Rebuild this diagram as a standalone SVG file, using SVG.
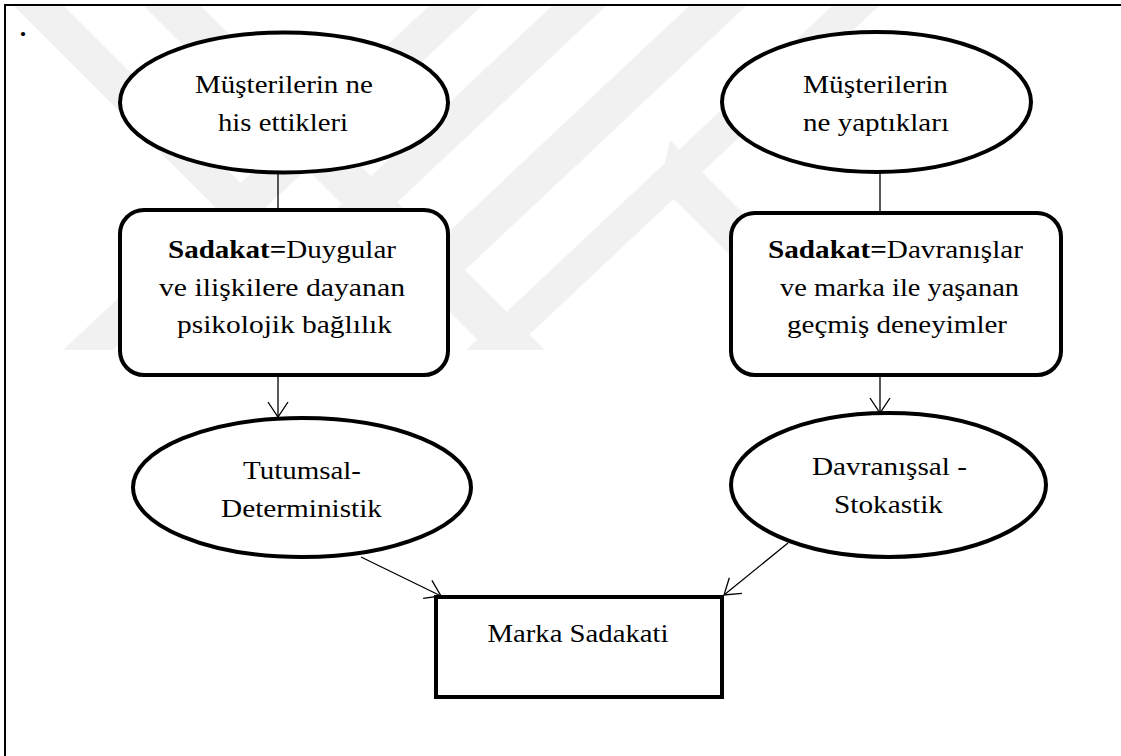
<svg xmlns="http://www.w3.org/2000/svg" width="1121" height="756" viewBox="0 0 1121 756">
  <defs>
    <style>
      .wm { fill: #f1f1f1; }
      .frame { fill: none; stroke: #000; stroke-width: 2; }
      .node { fill: #fff; stroke: #000; stroke-width: 4; }
      .link { fill: none; stroke: #000; stroke-width: 1.3; }
      .arrow { marker-end: url(#open); }
      text { font-family: "Liberation Serif", "Times New Roman", serif; font-size: 26px; fill: #000; text-anchor: middle; }
      .b { font-weight: bold; }
    </style>
    <marker id="open" viewBox="0 0 18 22" refX="16" refY="11" markerWidth="18" markerHeight="22" markerUnits="userSpaceOnUse" orient="auto">
      <path d="M1,1 L16,11 L1,21" fill="none" stroke="#000" stroke-width="1.3"/>
    </marker>
    <clipPath id="wmclip">
      <rect x="6" y="6" width="1115" height="344"/>
    </clipPath>
  </defs>

  <rect width="1121" height="756" fill="#fff"/>

  <!-- background emblem stripes -->
  <g id="emblem" clip-path="url(#wmclip)">
    <polygon class="wm" points="13,5 63,5 408,350 358,350"/>
    <polygon class="wm" points="143,5 200,5 545,350 488,350"/>
    <polygon class="wm" points="430,5 483,5 113,350 63,350"/>
    <polygon class="wm" points="553,5 607,5 240,350 186,350"/>
    <polygon class="wm" points="690,5 747,5 380,350 323,350"/>
    <polygon class="wm" points="833,5 880,5 513,350 466,350"/>
    <polygon class="wm" points="670,140 880,350 825,350 660,185"/>
  </g>

  <!-- page frame -->
  <path class="frame" d="M5,756 V5 H1121"/>
  <text x="23" y="36" font-weight="bold">.</text>

  <!-- connectors -->
  <g id="connectors">
    <line class="link" x1="278" y1="170" x2="278" y2="212"/>
    <line class="link arrow" x1="278" y1="375" x2="278" y2="417"/>
    <line class="link" x1="880" y1="170" x2="880" y2="214"/>
    <line class="link arrow" x1="880" y1="375" x2="880" y2="413"/>
    <line class="link arrow" x1="361" y1="557" x2="441" y2="596"/>
    <line class="link arrow" x1="788" y1="543" x2="724" y2="595"/>
  </g>

  <!-- nodes -->
  <g id="feel">
    <ellipse class="node" cx="284" cy="102.5" rx="164" ry="70"/>
    <text x="284" y="93" textLength="178" lengthAdjust="spacingAndGlyphs">Müşterilerin ne</text>
    <text x="283" y="131" textLength="130" lengthAdjust="spacingAndGlyphs">his ettikleri</text>
  </g>

  <g id="do">
    <ellipse class="node" cx="876.5" cy="102" rx="154.5" ry="70"/>
    <text x="875.5" y="93" textLength="145" lengthAdjust="spacingAndGlyphs">Müşterilerin</text>
    <text x="876" y="131" textLength="146" lengthAdjust="spacingAndGlyphs">ne yaptıkları</text>
  </g>

  <g id="attitudinal-def">
    <rect class="node" x="120" y="210" width="328" height="165" rx="24" ry="24"/>
    <text x="282" y="258" textLength="228" lengthAdjust="spacingAndGlyphs"><tspan class="b">Sadakat=</tspan>Duygular</text>
    <text x="282" y="296" textLength="246" lengthAdjust="spacingAndGlyphs">ve ilişkilere dayanan</text>
    <text x="284.5" y="333" textLength="215" lengthAdjust="spacingAndGlyphs">psikolojik bağlılık</text>
  </g>

  <g id="behavioural-def">
    <rect class="node" x="731" y="213" width="330" height="162" rx="24" ry="24"/>
    <text x="895.5" y="258" textLength="255" lengthAdjust="spacingAndGlyphs"><tspan class="b">Sadakat=</tspan>Davranışlar</text>
    <text x="899.5" y="296" textLength="239" lengthAdjust="spacingAndGlyphs">ve marka ile yaşanan</text>
    <text x="897" y="333" textLength="220" lengthAdjust="spacingAndGlyphs">geçmiş deneyimler</text>
  </g>

  <g id="attitudinal">
    <ellipse class="node" cx="302" cy="487.5" rx="169" ry="69.5"/>
    <text x="302" y="479" textLength="118" lengthAdjust="spacingAndGlyphs">Tutumsal-</text>
    <text x="301.5" y="517" textLength="161" lengthAdjust="spacingAndGlyphs">Deterministik</text>
  </g>

  <g id="behavioural">
    <ellipse class="node" cx="888.5" cy="485" rx="157.5" ry="72"/>
    <text x="889.5" y="475" textLength="155" lengthAdjust="spacingAndGlyphs">Davranışsal -</text>
    <text x="888.5" y="513" textLength="109" lengthAdjust="spacingAndGlyphs">Stokastik</text>
  </g>

  <g id="brand-loyalty">
    <rect class="node" x="436" y="597" width="286" height="100"/>
    <text x="578" y="642" textLength="181" lengthAdjust="spacingAndGlyphs">Marka Sadakati</text>
  </g>
</svg>
